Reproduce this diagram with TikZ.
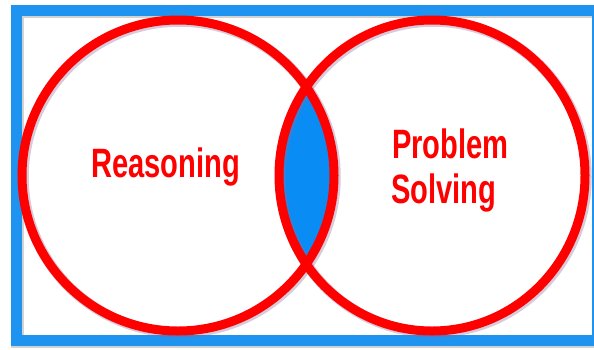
\documentclass[tikz,border=0pt]{standalone}
\usepackage{fontspec}
\setmainfont{Liberation Sans}
\definecolor{frameblue}{HTML}{1E93F0}
\definecolor{lensblue}{HTML}{0A8CF5}
\definecolor{vred}{HTML}{FF0000}
\definecolor{shade}{HTML}{8A6A9A}
\tikzset{
  ring/.style={draw=vred, line width=9pt},
  ringshadow/.style={draw=shade, line width=10.5pt, opacity=0.35},
  label/.style={anchor=base west, inner sep=0pt, text=vred, font=\fontsize{41}{41}\bfseries}
}
\begin{document}
\begin{tikzpicture}[x=1pt,y=-1pt]
\useasboundingbox (0,0) rectangle (594,349);
\fill[white] (0,0) rectangle (594,349);
% frame
\draw[draw=gray, opacity=0.35, line width=13pt] (17.5,11.5) rectangle (598.5,341.5);
\draw[draw=frameblue, line width=11pt] (16.5,10.5) rectangle (597.5,340.5);
\coordinate (L) at (178,175.5);
\coordinate (R) at (432,175.5);
% lens
\begin{scope}
  \clip (L) ellipse [x radius=156, y radius=155.5];
  \fill[lensblue] (R) ellipse [x radius=153, y radius=155.5];
\end{scope}
% shadows
\draw[ringshadow] ([shift={(1.5,1.5)}]L) ellipse [x radius=156, y radius=155.5];
\draw[ringshadow] ([shift={(1.5,1.5)}]R) ellipse [x radius=153, y radius=155.5];
% rings
\draw[ring] (L) ellipse [x radius=156, y radius=155.5];
\draw[ring] (R) ellipse [x radius=153, y radius=155.5];
% labels
\node[label] (reason) at (91,177) {\scalebox{0.71}[1]{Reasoning}};
\node[label] (prob) at (392,158) {\scalebox{0.71}[1]{Problem}};
\node[label] (solv) at (391,203) {\scalebox{0.71}[1]{Solving}};
\end{tikzpicture}
\end{document}
